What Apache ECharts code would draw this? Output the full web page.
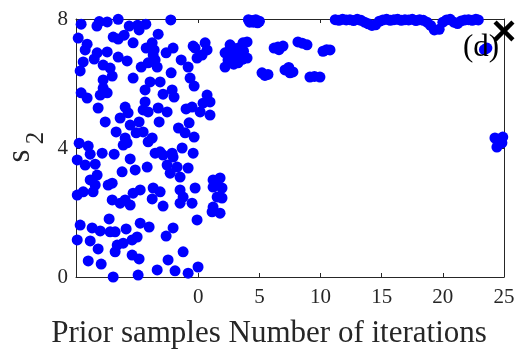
<!DOCTYPE html>
<html><head><meta charset="utf-8">
<script src="https://cdn.jsdelivr.net/npm/echarts@6/dist/echarts.min.js"></script>
<style>html,body{margin:0;padding:0;background:#fff}#c{width:519px;height:350px}</style>
</head><body><div id="c"></div>
<script>
// Prior samples (x < 0 region), [x, s2]
const priorSamples = [
[-9.58,7.84],[-8.1,7.92],[-8.29,7.78],[-7.45,7.91],[-6.55,7.99],[-5.65,7.78],[-4.96,7.81],[-4.29,7.84],[-4.84,7.66],[-2.25,7.97],
[-9.82,7.41],[-9.09,7.22],[-9.25,7.04],[-6.96,7.44],[-6.06,7.5],[-6.55,7.38],[-5.33,7.26],[-3.28,7.53],[-4.26,7.1],[-3.77,7.26],
[-3.61,7.04],[-2.06,7.1],[-2.63,6.95],[-0.42,7.16],[-0.26,7.1],[-8.27,6.95],[-7.45,6.98],[-8.51,6.76],[-9.41,6.67],[-9.66,6.39],
[-7.78,6.57],[-7.21,6.48],[-7.04,6.23],[-6.55,6.82],[-5.82,6.7],[-4.67,6.51],[-4.1,6.64],[-3.53,6.73],[-3.36,6.51],[-3.69,6.88],
[-2.22,6.33],[-1.4,6.73],[-0.83,6.51],[-0.1,6.79],[-5.33,6.17],[-3.94,6.05],[-3.12,6.05],[-0.67,6.17],[-0.34,5.92],[-9.58,5.71],
[-9.09,5.55],[-7.78,6.11],[-7.78,5.86],[-8.02,5.64],[-7.45,5.71],[-4.35,5.8],[-2.88,5.67],[-2.14,5.8],[-1.98,5.58],[-8.19,5.24],
[-7.61,4.81],[-5.98,5.27],[-6.39,4.93],[-5.74,5.09],[-4.35,5.43],[-4.51,5.18],[-4.1,5.12],[-3.28,5.24],[-2.55,5.12],[-4.84,4.81],
[-5.57,4.71],[-5.08,4.47],[-6.72,4.5],[-5.98,4.31],[-4.51,4.5],[-3.77,4.31],[-3.2,4.81],[-1.0,5.21],[-0.51,5.27],[-1.62,4.62],
[-0.75,4.78],[-1.08,4.47],[-0.34,4.34],[-4.1,4.19],
[-9.74,4.15],[-9.0,4.06],[-8.84,3.81],[-7.86,3.84],[-6.88,3.81],[-6.14,4.09],[-5.82,4.16],[-9.9,3.63],[-9.25,3.47],[-8.43,3.5],
[-5.57,3.66],[-6.23,3.26],[-5.16,3.32],[-4.18,3.41],[-3.53,3.84],[-3.12,3.88],[-2.88,3.78],[-2.14,3.84],[-1.32,4.0],[-2.06,3.72],
[-0.42,3.84],[-2.55,3.47],[-1.73,3.41],[-0.83,3.38],[-2.3,3.22],[-1.49,3.1],[-8.84,3.01],[-8.27,3.16],[-8.43,2.85],[-8.6,2.64],
[-7.37,2.85],[-7.04,2.91],[-9.41,2.64],[-9.9,2.54],[-7.04,2.39],[-6.39,2.29],[-5.98,2.39],[-5.57,2.23],[-5.33,2.6],[-4.75,2.7],
[-3.69,2.76],[-3.12,2.64],[-3.77,2.42],[-2.88,2.2],[-1.49,2.7],[-1.24,2.48],[-1.49,2.29],[-0.51,2.29],[-0.26,2.76],[-0.1,1.77],
[-7.29,1.8],[-9.66,1.61],[-8.68,1.52],[-8.02,1.43],[-7.21,1.4],[-6.8,1.4],[-5.9,1.49],[-4.75,1.67],[-4.02,1.55],[-2.06,1.52],
[-2.63,1.27],[-9.9,1.15],[-8.84,1.12],[-8.19,0.87],[-6.63,0.99],[-6.8,0.78],[-6.14,1.05],[-5.41,1.15],[-5.0,1.24],[-5.41,0.68],
[-4.84,0.56],[-9.0,0.5],[-7.94,0.4],[-2.47,0.53],[-1.24,0.78],[-6.96,0.0],[-4.92,0.06],[-3.36,0.22],[-1.9,0.19],[-0.83,0.12],
[-0.02,0.31]
];
// Samples by iteration, [iteration, s2]
const iterationSamples = [
[0.56,7.26],[0.72,7.04],[0.31,6.88],
[2.19,6.95],[2.84,7.1],[3.66,7.26],[3.99,7.29],[3.42,6.95],[2.43,6.73],[2.19,6.51],[3.25,6.64],[3.99,6.79],[2.76,6.82],
[2.5,7.0],[3.0,6.9],[3.3,7.1],[2.6,7.2],[3.7,7.0],[2.9,6.6],[3.6,6.75],
[4.1,7.98],[4.4,7.95],[4.7,7.98],[5.0,7.93],[4.5,7.9],[4.2,7.9],[4.85,7.88],
[6.2,7.1],[6.52,7.13],[6.93,7.16],[6.6,7.05],[8.15,7.29],[8.5,7.25],[8.89,7.2],[10.2,7.0],[10.5,7.05],[10.77,7.04],
[5.21,6.33],[5.45,6.25],[5.7,6.28],[7.09,6.42],[7.4,6.5],[7.74,6.36],[7.5,6.33],[9.13,6.2],[9.5,6.22],[9.95,6.2],
[0.72,5.64],[0.96,5.43],[0.39,5.39],[0.15,5.12],[0.96,5.02],
[1.21,3.01],[1.78,3.07],[1.21,2.79],[1.94,2.76],[1.54,2.48],[1.94,2.45],[1.21,2.17],[1.78,1.98],[1.13,2.02],[1.55,2.85],
[11.2,7.98],[11.5,7.96],[11.8,7.99],[12.1,7.97],[12.4,7.98],[12.7,7.95],[13.0,7.99],[13.3,7.96],[13.6,7.9],[13.9,7.85],
[14.2,7.8],[14.5,7.82],[14.8,7.93],[15.1,7.97],[15.4,7.99],[15.7,7.96],[16.0,7.98],[16.3,7.99],[16.6,7.96],[16.9,7.98],
[17.2,7.97],[17.5,7.99],[17.8,7.95],[18.1,7.98],[18.4,7.96],[18.7,7.9],[19.0,7.8],[19.3,7.66],[19.7,7.68],[20.0,7.9],
[20.3,7.97],[20.6,7.99],[20.9,7.9],[21.2,7.86],[21.5,7.94],[21.8,7.97],[22.1,7.98],[22.4,7.96],[22.7,7.99],[22.9,7.97],
[23.6,7.1],[23.4,7.05],
[24.26,4.31],[24.83,4.16],[24.42,4.03],[24.9,4.34],[24.6,4.2]
];
// Final point (black cross)
const finalPoint = [[25, 7.63]];
const xTicks = [0, 5, 10, 15, 20, 25];
const yTicks = [0, 4, 8];
const xLabel = 'Prior samples Number of iterations';
const panelLabel = '(d)';

const AX = '#262626';
const FONT = 'Liberation Serif';
const chart = echarts.init(document.getElementById('c'), null, {renderer: 'canvas'});
const baseX = {
  type: 'value', min: -10, max: 25, splitLine: {show: false},
  axisLine: {show: true, onZero: false, lineStyle: {color: AX, width: 1}}
};
const baseY = {
  type: 'value', min: 0, max: 8, splitLine: {show: false},
  axisLine: {show: true, onZero: false, lineStyle: {color: AX, width: 1}}
};
chart.setOption({
  animation: false,
  grid: {left: 76, right: 15, top: 19, bottom: 73},
  xAxis: [
    Object.assign({}, baseX, {position: 'bottom',
      axisTick: {show: true, inside: true, length: 4, customValues: xTicks, lineStyle: {color: AX}},
      axisLabel: {show: true, customValues: xTicks, margin: 10, color: AX, fontFamily: FONT, fontSize: 21}}),
    Object.assign({}, baseX, {position: 'top',
      axisTick: {show: true, inside: true, length: 4, customValues: xTicks, lineStyle: {color: AX}},
      axisLabel: {show: false}})
  ],
  yAxis: [
    Object.assign({}, baseY, {position: 'left',
      axisTick: {show: true, inside: true, length: 4, customValues: yTicks, lineStyle: {color: AX}},
      axisLabel: {show: true, customValues: yTicks, margin: 8, color: AX, fontFamily: FONT, fontSize: 21}}),
    Object.assign({}, baseY, {position: 'right',
      axisTick: {show: true, inside: true, length: 4, customValues: yTicks, lineStyle: {color: AX}},
      axisLabel: {show: false}})
  ],
  series: [
    {type: 'scatter', data: priorSamples, symbol: 'circle', symbolSize: 11, clip: false,
     itemStyle: {color: '#0000ff', opacity: 1}, z: 3},
    {type: 'scatter', data: iterationSamples, symbol: 'circle', symbolSize: 11, clip: false,
     itemStyle: {color: '#0000ff', opacity: 1}, z: 3},
    {type: 'scatter', data: finalPoint, clip: false, z: 5,
     symbol: 'path://M0,3 L3,0 L10,7 L17,0 L20,3 L13,10 L20,17 L17,20 L10,13 L3,20 L0,17 L7,10 Z',
     symbolSize: 21, itemStyle: {color: '#000000', opacity: 1}}
  ],
  graphic: [
    {type: 'text', z: 100, x: 269, y: 334,
     style: {text: xLabel, font: '31px "Liberation Serif"', fill: AX, textAlign: 'center', textVerticalAlign: 'middle'}},
    {type: 'text', z: 100, x: 481, y: 48,
     style: {text: panelLabel, font: '31px "Liberation Serif"', fill: '#000', textAlign: 'center', textVerticalAlign: 'middle'}},
    {type: 'text', z: 100, x: 20, y: 156, rotation: Math.PI / 2,
     style: {text: 's', font: '33px "Liberation Serif"', fill: AX, textAlign: 'center', textVerticalAlign: 'middle'}},
    {type: 'text', z: 100, x: 36, y: 138, rotation: Math.PI / 2,
     style: {text: '2', font: '25px "Liberation Serif"', fill: AX, textAlign: 'center', textVerticalAlign: 'middle'}}
  ]
});
</script></body></html>
